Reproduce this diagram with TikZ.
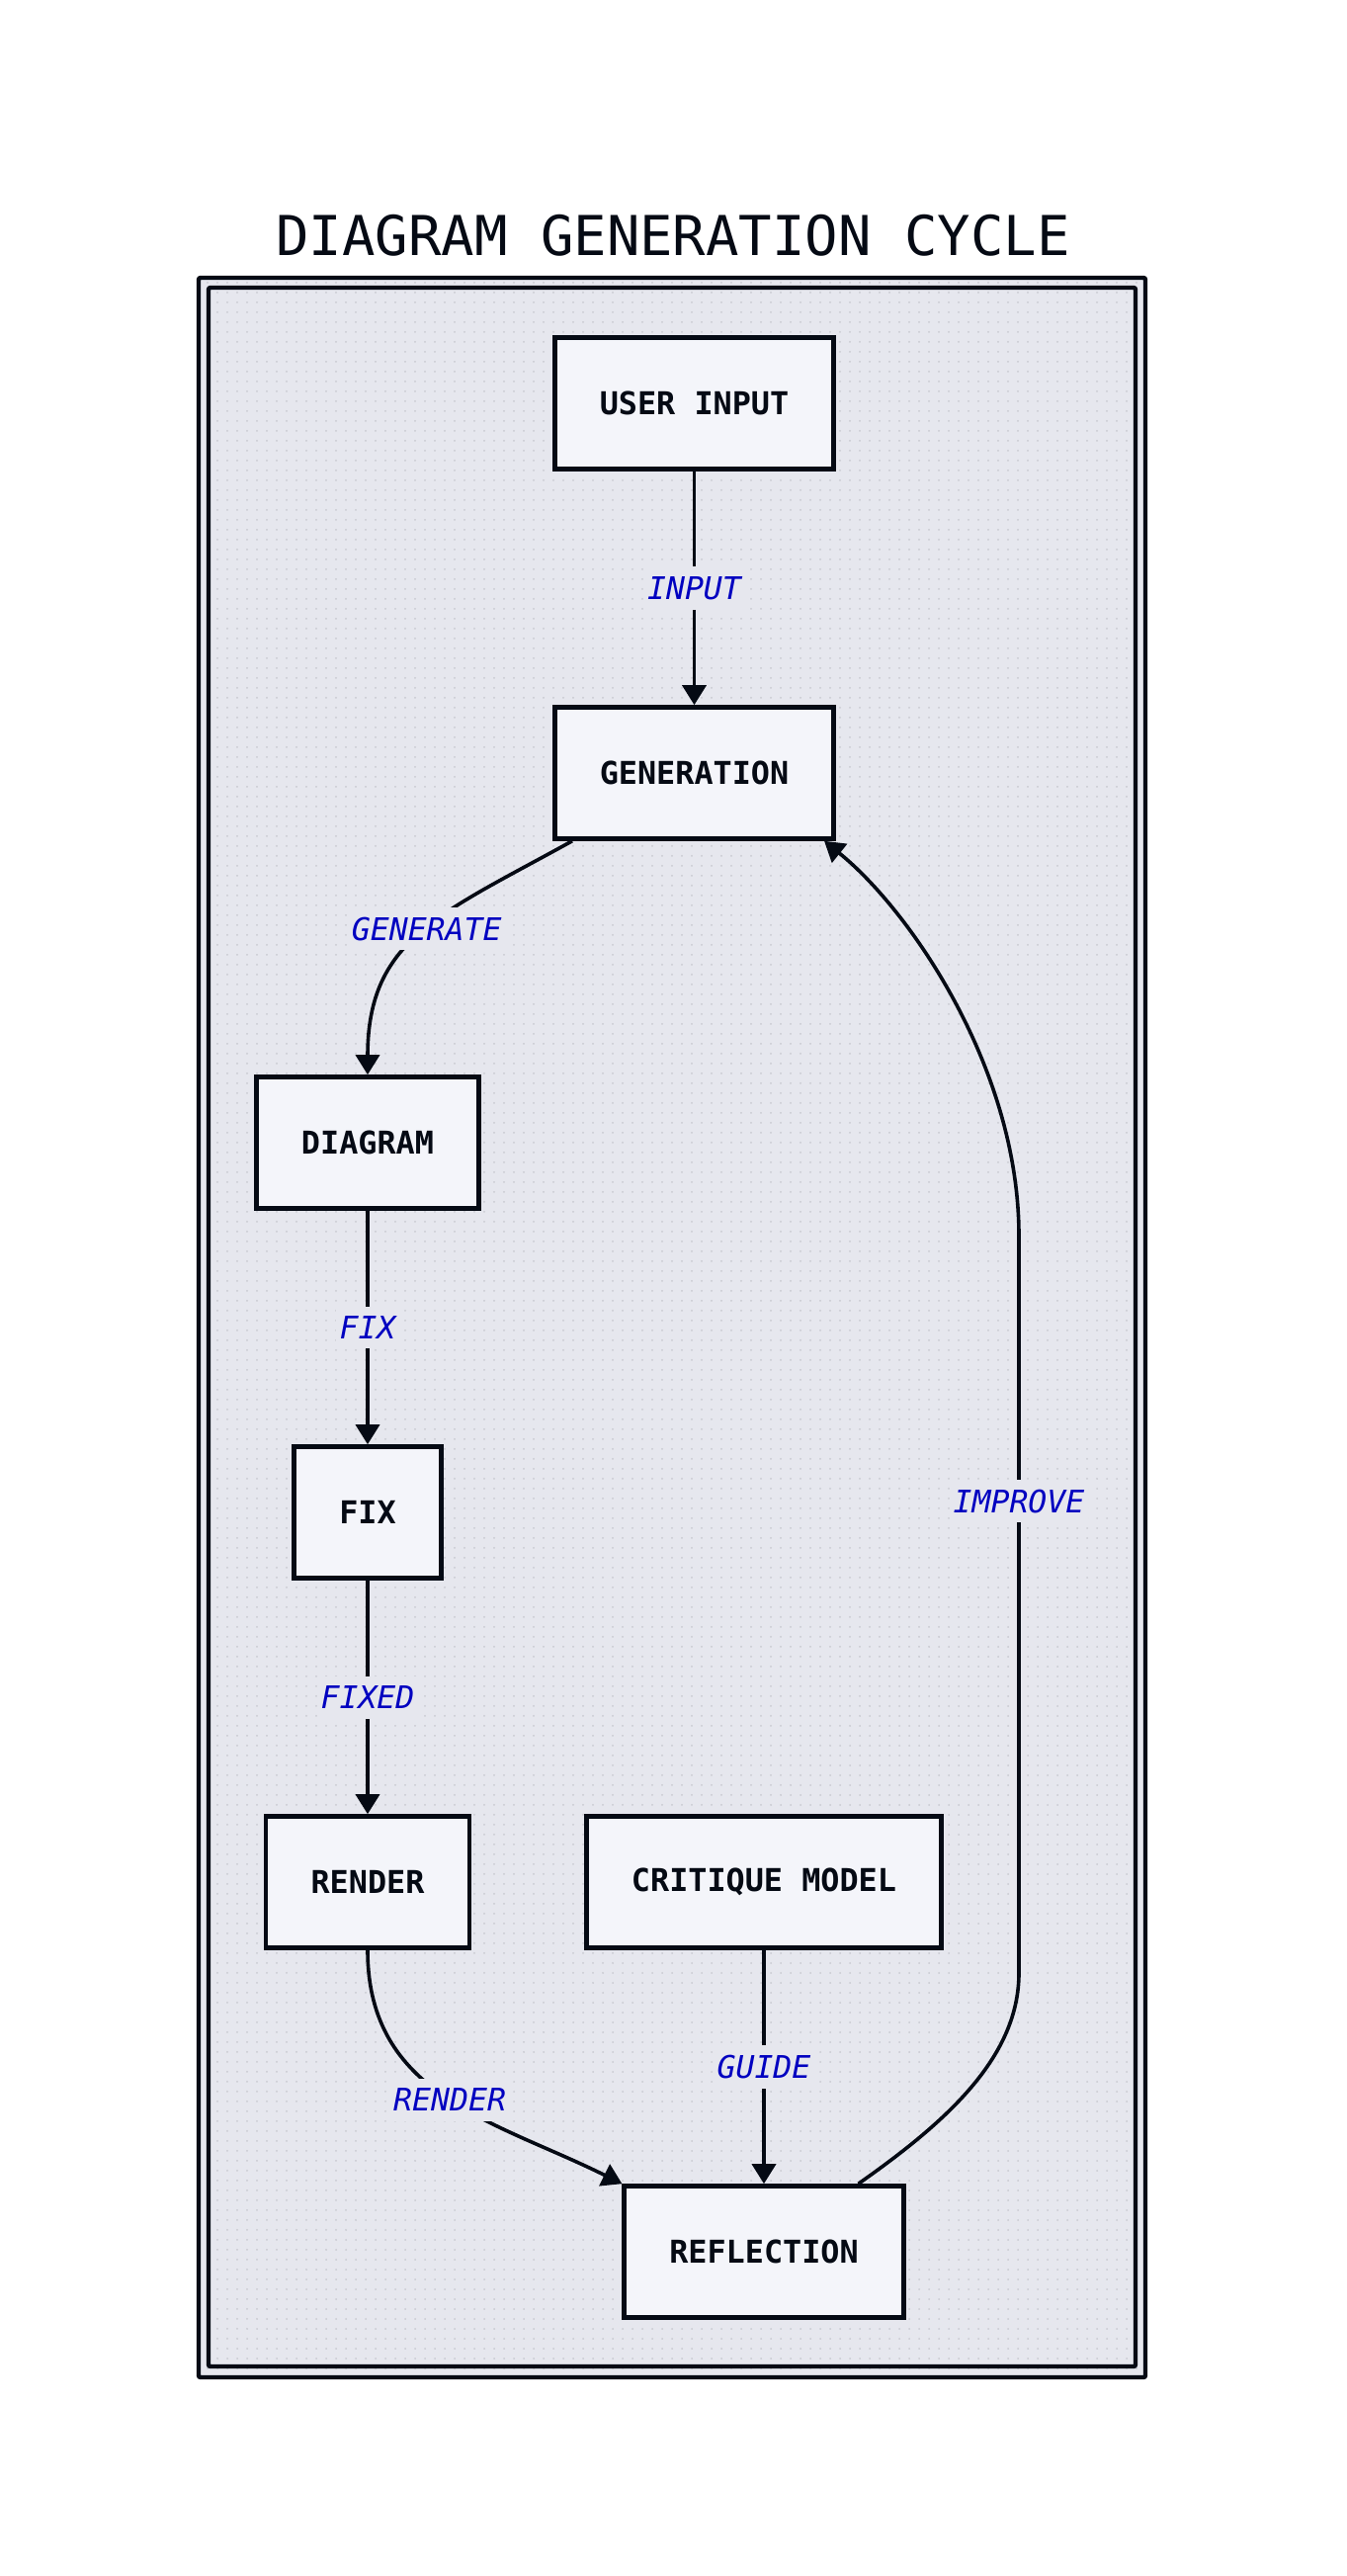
\documentclass[tikz,border=0pt]{standalone}
\usepackage{fontspec}
\newfontfamily\dmono{DejaVu Sans Mono}[ItalicFont={DejaVu Sans Mono Oblique},BoldFont={DejaVu Sans Mono Bold},BoldItalicFont={DejaVu Sans Mono Bold Oblique}]
\usetikzlibrary{arrows.meta,patterns.meta,calc}
\definecolor{bgcol}{HTML}{E6E7EE}
\definecolor{nodefill}{HTML}{F4F5FA}
\definecolor{inkcol}{HTML}{050A14}
\definecolor{lblcol}{HTML}{0000C0}
\definecolor{dotcol}{HTML}{C8C9D1}
\begin{document}
\begin{tikzpicture}[x=0.5pt,y=-0.5pt,
  box/.style={draw=inkcol, line width=2.3pt, fill=nodefill, minimum height=66.5pt,
    inner xsep=22.75pt, inner ysep=0pt, text=inkcol,
    font=\dmono\bfseries\fontsize{15.9pt}{18pt}\selectfont},
  edge/.style={draw=inkcol, line width=1.8pt, -{Triangle[length=10pt,width=12pt]}},
  lbl/.style={fill=bgcol, text=lblcol, inner xsep=2pt, inner ysep=5pt,
    font=\dmono\itshape\fontsize{15.75pt}{18pt}\selectfont},
  frameline/.style={draw=inkcol, line width=2.2pt, rounded corners=1pt},
]
\useasboundingbox (0,0) rectangle (1362,2606);
% frame
\fill[bgcol] (201,281) rectangle (1159,2405);
\fill[pattern={Dots[distance=5pt,radius=0.5pt]}, pattern color=dotcol] (201,281) rectangle (1159,2405);
\draw[frameline] (201,281) rectangle (1159,2405);
\draw[frameline] (211,291) rectangle (1149,2394);
% title
\node[text=inkcol, font=\dmono\fontsize{27.8pt}{32pt}\selectfont] (title) at (681,238) {DIAGRAM GENERATION CYCLE};
% nodes
\node[box] (ui)   at (702.5,408)  {USER INPUT};
\node[box] (gen)  at (702.5,782)  {GENERATION};
\node[box] (diag) at (372,1156)   {DIAGRAM};
\node[box] (fix)  at (372,1530)   {FIX};
\node[box] (rend) at (372,1904)   {RENDER};
\node[box] (crit) at (773,1904)   {CRITIQUE MODEL};
\node[box] (refl) at (773,2278)   {REFLECTION};
% helper coordinates
\coordinate (genout) at ($(gen.south west)+(20,0)$);
\coordinate (genin)  at ($(gen.south east)+(-12,0)$);
\coordinate (reflout) at ($(refl.north east)+(-48,0)$);
\coordinate (imp1) at (1031,1996);
\coordinate (imp2) at (1031,1250);
% edges
\draw[edge] (ui) -- node[lbl]{INPUT} (gen);
\draw[edge] (genout) .. controls (445,925) and (372,950) .. (diag.north) node[lbl,pos=0.47]{GENERATE};
\draw[edge] (diag) -- node[lbl]{FIX} (fix);
\draw[edge] (fix) -- node[lbl]{FIXED} (rend);
\draw[edge] (rend.south) .. controls (372,2120) and (500,2145) .. (refl.north west) node[lbl,pos=0.51]{RENDER};
\draw[edge] (crit) -- node[lbl]{GUIDE} (refl);
\draw[edge] (reflout) .. controls (960,2145) and (1031,2080) .. (imp1)
  -- node[lbl,pos=0.64]{IMPROVE} (imp2)
  .. controls (1031,1080) and (920,920) .. (genin);
\end{tikzpicture}
\end{document}
